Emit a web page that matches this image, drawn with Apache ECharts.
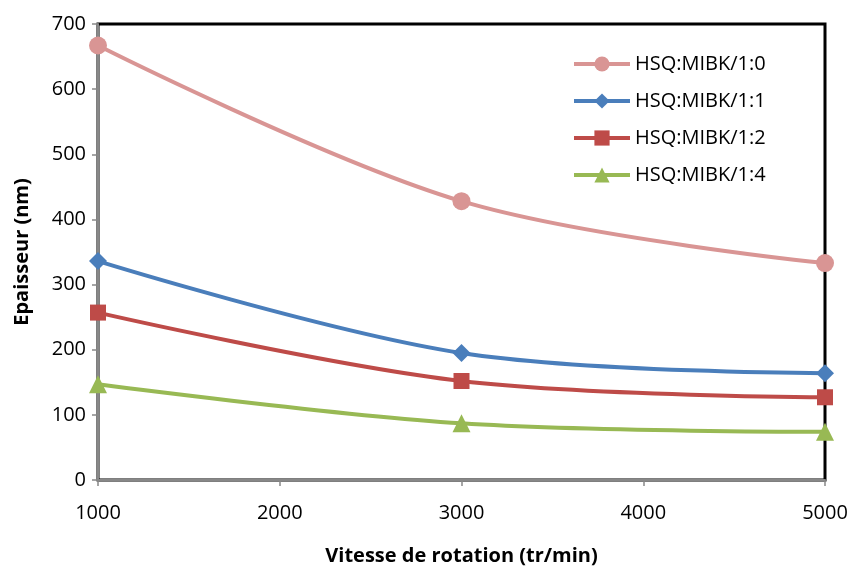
<!DOCTYPE html>
<html><head><meta charset="utf-8">
<script src="https://cdn.jsdelivr.net/npm/echarts@6/dist/echarts.min.js"></script>
<style>html,body{margin:0;padding:0;background:#fff}#c{width:853px;height:572px}</style>
</head><body><div id="c"></div>
<script>
const speeds = [1000, 3000, 5000];
const s10 = [667, 428, 333];
const s11 = [336, 195, 164];
const s12 = [257, 152, 127];
const s14 = [147, 87, 74];
const names = ['HSQ:MIBK/1:0', 'HSQ:MIBK/1:1', 'HSQ:MIBK/1:2', 'HSQ:MIBK/1:4'];
const colors = ['#D99594', '#4A7EBB', '#BE4B48', '#98B954'];
const symbols = ['circle', 'diamond', 'rect', 'triangle'];
const sizes = [18, 18, 16, 18];
const all = [s10, s11, s12, s14];
const font = "'Open Sans', 'Liberation Sans', sans-serif";
const chart = echarts.init(document.getElementById('c'));
chart.setOption({
  animation: false,
  color: colors,
  grid: {left: 98, right: 28, top: 24, bottom: 92, outerBoundsMode: 'none', containLabel: false,
         show: true, borderColor: '#000', borderWidth: 3, backgroundColor: 'transparent'},
  legend: {
    top: 49, left: 567, orient: 'vertical', itemGap: 17, itemWidth: 56, itemHeight: 19,
    lineStyle: {width: 4},
    textStyle: {fontFamily: font, fontSize: 20, color: '#000'},
    data: names
  },
  xAxis: {
    type: 'value', min: 1000, max: 5000, interval: 1000,
    name: 'Vitesse de rotation (tr/min)', nameLocation: 'middle', nameGap: 66,
    nameTextStyle: {fontFamily: font, fontSize: 20, fontWeight: 'bold', color: '#000'},
    axisLine: {show: true, lineStyle: {color: '#888', width: 2}},
    axisTick: {show: true, length: 6, lineStyle: {color: '#888', width: 1.5}},
    axisLabel: {fontFamily: font, fontSize: 20, color: '#000', margin: 23, formatter: v => String(v)},
    splitLine: {show: false}
  },
  yAxis: {
    type: 'value', min: 0, max: 700, interval: 100,
    name: 'Epaisseur (nm)', nameLocation: 'middle', nameGap: 66,
    nameTextStyle: {fontFamily: font, fontSize: 20, fontWeight: 'bold', color: '#000'},
    axisLine: {show: true, lineStyle: {color: '#888', width: 2}},
    axisTick: {show: true, length: 6, lineStyle: {color: '#888', width: 1.5}},
    axisLabel: {fontFamily: font, fontSize: 20, color: '#000', margin: 12},
    splitLine: {show: false}
  },
  series: all.map((d, i) => ({
    name: names[i], type: 'line', smooth: 0.35,
    data: speeds.map((x, j) => [x, d[j]]),
    symbol: symbols[i], symbolSize: sizes[i],
    lineStyle: {width: 4, color: colors[i]},
    itemStyle: {color: colors[i]}
  }))
});
</script></body></html>
